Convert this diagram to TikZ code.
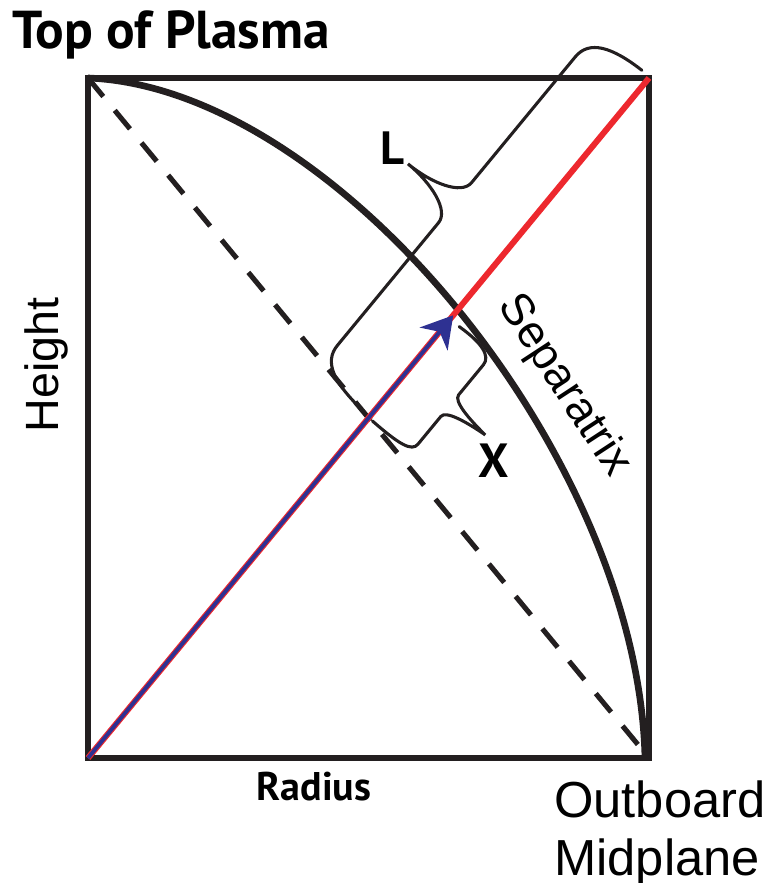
\documentclass[tikz,border=0pt]{standalone}
\usepackage{fontspec}
\setmainfont{Liberation Sans}
\newfontfamily\myriad{PT Sans}
\usetikzlibrary{arrows.meta,positioning,calc}
\definecolor{inkblack}{RGB}{35,31,32}
\definecolor{fieldred}{RGB}{237,40,46}
\definecolor{fieldblue}{RGB}{46,49,146}

\begin{document}
\begin{tikzpicture}[x=0.75pt,y=0.75pt,>=Stealth]
  \tikzset{frame/.style={draw=inkblack,line width=5.2pt}}
  \tikzset{curly/.style={draw=inkblack,line width=2.3pt,line cap=round}}
  \tikzset{lbl/.style={inner sep=0pt,text=black}}
  \tikzset{myr/.style={lbl,font=\myriad\bfseries\fontsize{40}{48}\selectfont}}
  \tikzset{ari/.style={lbl,font=\fontsize{38}{46}\selectfont}}
  \useasboundingbox (-88,-125) rectangle (687,758);
  \coordinate (bl) at (0,0);
  \coordinate (tr) at (561,680);
  \coordinate (tl) at (0,680);
  \coordinate (br) at (561,0);
  \coordinate (tip) at ($(bl)!0.651!(tr)$);
  % box, separatrix and dashed diagonal
  \draw[frame] (bl) rectangle (tr);
  \draw[inkblack,line width=5pt] (tl) .. controls (250,670) and (550,300) .. (557,0);
  \draw[inkblack,line width=3.8pt,dash pattern=on 18pt off 13.5pt] (tl) -- (br);
  % field line
  \draw[fieldred,line width=4.5pt] (bl) -- (tr);
  \draw[fieldblue,line width=2.8pt,-{Stealth[length=23pt,width=27pt,inset=7pt]}] (bl) -- (tip);
  % braces L and X
  \begin{scope}[rotate=50.5]
    \draw[curly] (443,10) .. controls (446,48) and (455,70) .. (477,70) -- (636,70)
      .. controls (652,70) and (662,100) .. (662,131)
      .. controls (662,100) and (672,70) .. (688,70) -- (851,70)
      .. controls (873,70) and (882,48) .. (883,10);
    \draw[curly] (441,-5) .. controls (440,-40) and (442,-55) .. (452,-55) -- (488,-55)
      .. controls (496,-55) and (500,-78) .. (502,-101)
      .. controls (504,-78) and (508,-55) .. (516,-55) -- (555,-55)
      .. controls (566,-55) and (571,-40) .. (569,-12);
  \end{scope}
  % labels
  \node[myr,anchor=base west] (top) at (-76,709) {Top of Plasma};
  \node[myr,font=\myriad\bfseries\fontsize{30}{36}\selectfont,anchor=base] (rad) at (226,-42) {Radius};
  \node[ari,anchor=base west] (outb) at (466,-59) {Outboard};
  \node[ari,anchor=base west] (midp) at ($(outb.base west)+(0,-58)$) {Midplane};
  \node[ari,font=\fontsize{35}{41}\selectfont,rotate=90] (hgt) at (-42,393) {Height};
  \node[ari,font=\fontsize{34}{40}\selectfont,rotate=-56.8] (sep) at (476,372) {Separatrix};
  \node[myr,font=\myriad\bfseries\fontsize{35}{42}\selectfont] (lenL) at (304,610) {L};
  \node[myr,font=\myriad\bfseries\fontsize{36}{43}\selectfont] (lenX) at (406,297) {X};
\end{tikzpicture}
\end{document}
